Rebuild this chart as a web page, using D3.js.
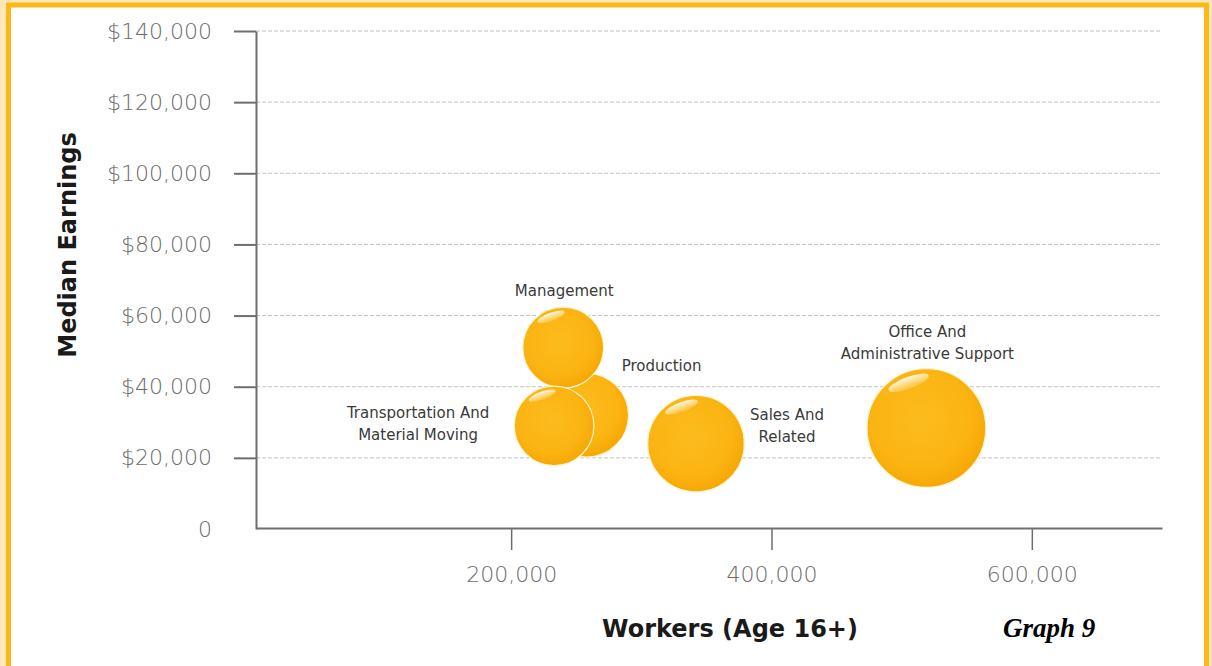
<!DOCTYPE html>
<html><head><meta charset="utf-8">
<script src="https://cdn.jsdelivr.net/npm/d3@7/dist/d3.min.js"></script>
<style>html,body{margin:0;padding:0;background:#fde7b9;} svg{display:block;}</style>
</head><body><svg id="chart" width="1212" height="666"></svg>
<script>
// ---- data ----
const categories = ["Management", "Production", "Transportation And Material Moving", "Sales And Related", "Office And Administrative Support"];
const labelLines = [["Management"], ["Production"], ["Transportation And", "Material Moving"], ["Sales And", "Related"], ["Office And", "Administrative Support"]];
const workers = [240000, 258000, 233000, 342000, 519000];
const medianEarnings = [51000, 32000, 29000, 24000, 28400];
const yTickValues = [0, 20000, 40000, 60000, 80000, 100000, 120000, 140000];
const xTickValues = [200000, 400000, 600000];

// ---- layout (not data) ----
const drawOrder = [1, 0, 2, 3, 4];
const labelLayout = [
  {anchor: "middle", dx: 1, dy: -52},
  {anchor: "start", dx: 35, dy: -44},
  {anchor: "middle", dx: -136, dy: -8},
  {anchor: "middle", dx: 91, dy: -24},
  {anchor: "middle", dx: 1, dy: -91}
];

const svg = d3.select("#chart");
// frame
svg.append("rect").attr("x", 8.5).attr("y", 5).attr("width", 1198).attr("height", 664)
  .attr("fill", "#ffffff").attr("stroke", "#fbb917").attr("stroke-width", 5);

const x = d3.scaleLinear().domain([4000, 700000]).range([256, 1162]);
const y = d3.scaleLinear().domain([0, 140000]).range([529, 31]);
const r = d3.scaleSqrt().domain([0, 700000]).range([0, 69]);
const axisX = x.range()[0];

// defs
const defs = svg.append("defs");
const rg = defs.append("radialGradient").attr("id", "bub").attr("cx", "45%").attr("cy", "42%").attr("r", "60%");
rg.append("stop").attr("offset", "0%").attr("stop-color", "#fcbc1e");
rg.append("stop").attr("offset", "70%").attr("stop-color", "#fbb412");
rg.append("stop").attr("offset", "100%").attr("stop-color", "#f5a604");
const hg = defs.append("linearGradient").attr("id", "hl").attr("x1", "0%").attr("y1", "0%").attr("x2", "0%").attr("y2", "100%");
hg.append("stop").attr("offset", "0%").attr("stop-color", "#ffffff").attr("stop-opacity", 0.9);
hg.append("stop").attr("offset", "100%").attr("stop-color", "#fff6d0").attr("stop-opacity", 0.2);

// gridlines
svg.append("g").selectAll("line").data(yTickValues.filter(d => d > 0)).join("line")
  .attr("x1", axisX).attr("x2", x(700000)).attr("y1", d => y(d)).attr("y2", d => y(d))
  .attr("stroke", "#c2c2c2").attr("stroke-width", 1).attr("stroke-dasharray", "4,2");

// y axis
const yAxis = svg.append("g").attr("transform", `translate(${axisX},0)`)
  .call(d3.axisLeft(y).tickValues(yTickValues).tickSize(22).tickSizeOuter(0).tickPadding(22)
    .tickFormat(d => d === 0 ? "0" : "$" + d3.format(",")(d)));
yAxis.select(".domain").attr("stroke", "#6e6e6e").attr("stroke-width", 2);
yAxis.selectAll(".tick line").attr("stroke", "#6e6e6e").attr("stroke-width", 2)
  .filter(d => d === 0).remove();
yAxis.selectAll(".tick text").attr("fill", "#6c6c6c").style("font-family", "DejaVu Sans")
  .style("font-size", "22px").style("font-weight", 200);

// x axis
const xAxis = svg.append("g").attr("transform", `translate(0,${y(0) - 1})`)
  .call(d3.axisBottom(x).tickValues(xTickValues).tickSize(22).tickSizeOuter(0).tickPadding(16)
    .tickFormat(d3.format(",")));
xAxis.select(".domain").attr("stroke", "#6e6e6e").attr("stroke-width", 2);
xAxis.selectAll(".tick line").attr("stroke", "#6e6e6e").attr("stroke-width", 1.5);
xAxis.selectAll(".tick text").attr("fill", "#6c6c6c").style("font-family", "DejaVu Sans")
  .style("font-size", "22px").style("font-weight", 200);

// bubbles
const bubbles = svg.append("g");
drawOrder.forEach(i => {
  const cx = x(workers[i]), cy = y(medianEarnings[i]), rr = r(workers[i]);
  bubbles.append("circle").attr("cx", cx).attr("cy", cy).attr("r", rr)
    .attr("fill", "url(#bub)").attr("stroke", "#fff4cc").attr("stroke-width", 1.2);
  bubbles.append("ellipse")
    .attr("transform", `translate(${cx - 0.3 * rr},${cy - 0.76 * rr}) rotate(-20)`)
    .attr("rx", 0.36 * rr).attr("ry", 0.1 * rr).attr("fill", "url(#hl)");
});

// labels
const labels = svg.append("g").style("font-family", "DejaVu Sans").style("font-size", "15px").attr("fill", "#3a3a3a");
categories.forEach((c, i) => {
  const cx = x(workers[i]), cy = y(medianEarnings[i]);
  const L = labelLayout[i];
  const t = labels.append("text").attr("text-anchor", L.anchor)
    .attr("x", cx + L.dx).attr("y", cy + L.dy);
  labelLines[i].forEach((line, k) => {
    t.append("tspan").attr("x", cx + L.dx).attr("dy", k === 0 ? 0 : 22).text(line);
  });
});

// axis titles
svg.append("text").attr("transform", "translate(76,245) rotate(-90)").attr("text-anchor", "middle")
  .style("font-family", "DejaVu Sans").style("font-weight", "bold").style("font-size", "24px")
  .attr("fill", "#1a1a1a").text("Median Earnings");
svg.append("text").attr("x", 730).attr("y", 637).attr("text-anchor", "middle")
  .style("font-family", "DejaVu Sans").style("font-weight", "bold").style("font-size", "24px")
  .attr("fill", "#1a1a1a").text("Workers (Age 16+)");
svg.append("text").attr("x", 1003).attr("y", 637)
  .style("font-family", "Liberation Serif").style("font-weight", "bold").style("font-style", "italic").style("font-size", "27px")
  .attr("fill", "#000").text("Graph 9");
</script></body></html>
